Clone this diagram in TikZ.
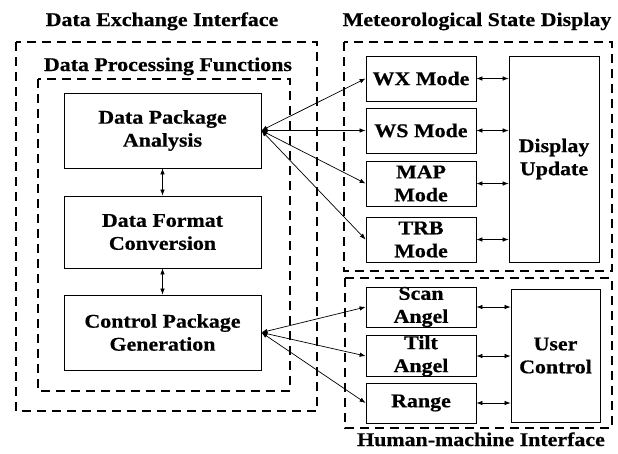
\documentclass[tikz,border=0pt]{standalone}
\usepackage{fontspec}
\setmainfont{Liberation Serif}[FakeStretch=1.13, BoldFeatures={FakeBold=0.6}]
\usetikzlibrary{arrows.meta}
\newcommand{\boxfont}{\fontsize{19.4}{23}\selectfont\bfseries}
\tikzset{
  box/.style={draw, line width=.8pt, inner sep=0pt, align=center, font=\boxfont},
  group/.style={line width=1.6pt, dash pattern=on 9pt off 6pt},
  link/.style={line width=.7pt, {Latex[length=6pt,width=4.5pt]}-{Latex[length=6pt,width=4.5pt]}},
  title/.style={font=\boxfont, anchor=base}
}

\begin{document}
\begin{tikzpicture}
  [x = 1pt, y = -1pt]
  \useasboundingbox (0,0) rectangle (618,453);
  \draw[group] (16,42) rectangle (317,411);
  \draw[group] (38,79) rectangle (290,391);
  \draw[group] (344,42) rectangle (612,271);
  \draw[group] (345,278) rectangle (612,428);
  \node[title] (dei) at (162,26) {Data Exchange Interface};
  \node[title] (dpf) at (168,71) {Data Processing Functions};
  \node[title] (msd) at (477,26) {Meteorological State Display};
  \node[title] (hmi) at (481,446) {Human-machine Interface};
  \node[box, minimum width=197pt, minimum height=75pt] (ana) at (162.5,130.5) {Data Package\\Analysis};
  \node[box, minimum width=197pt, minimum height=72pt] (conv) at (162.5,232) {Data Format\\Conversion};
  \node[box, minimum width=197pt, minimum height=75pt] (gen) at (162.5,332.5) {Control Package\\Generation};
  \foreach \name/\y/\txt in {wx/78.5/{WX Mode},ws/130.5/{WS Mode},map/183.5/{MAP\\Mode},trb/239.5/{TRB\\Mode}}{
    \node[box, minimum width=110pt, minimum height=45pt] (\name) at (421,\y) {\txt};
  }
  \foreach \name/\y/\txt in {scan/307/{Scan\\Angel},tilt/356/{Tilt\\Angel},rng/403/{Range}}{
    \node[box, minimum width=110pt, minimum height=40pt] (\name) at (421,\y) {\txt};
  }
  \node[box, minimum width=90pt, minimum height=206pt] (disp) at (554,159) {Display\\Update};
  \node[box, minimum width=89pt, minimum height=133pt] (user) at (555.5,355.5) {User\\Control};
  \draw[link] (ana.south) -- (conv.north);
  \draw[link] (conv.south) -- (gen.north);
  \foreach \m in {wx,ws,map,trb}{
    \draw[link] (ana.east) -- (\m.west);
    \draw[link] (\m.east) -- (\m.east -| disp.west);
  }
  \foreach \m in {scan,tilt,rng}{
    \draw[link] (gen.east) -- (\m.west);
    \draw[link] (\m.east) -- (\m.east -| user.west);
  }
\end{tikzpicture}
\end{document}
